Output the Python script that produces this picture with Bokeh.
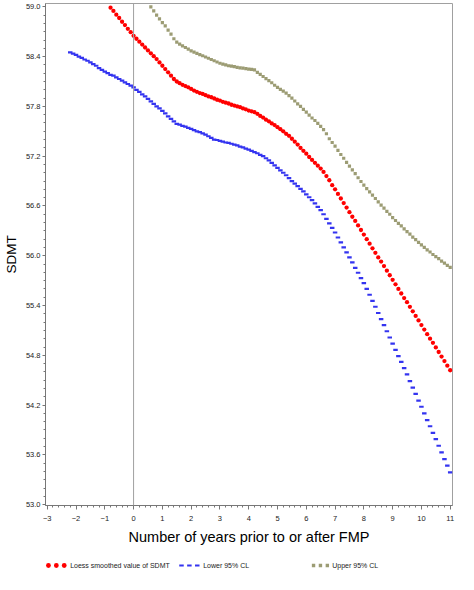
from bokeh.plotting import figure
from bokeh.models import Range1d, FixedTicker, PrintfTickFormatter, Span
from bokeh.layouts import column
from bokeh.embed import file_html
from bokeh.resources import INLINE
from bokeh.core.properties import value

# ---------------- data ----------------
x_grid = [-2.2, -2.1, -2.0, -1.9, -1.8, -1.7, -1.6, -1.5, -1.4, -1.3,
          -1.2, -1.1, -1.0, -0.9, -0.8, -0.7, -0.6, -0.5, -0.4, -0.3,
          -0.2, -0.1, 0.0, 0.1, 0.2, 0.3, 0.4, 0.5, 0.6, 0.7,
          0.8, 0.9, 1.0, 1.1, 1.2, 1.3, 1.4, 1.5, 1.6, 1.7,
          1.8, 1.9, 2.0, 2.1, 2.2, 2.3, 2.4, 2.5, 2.6, 2.7,
          2.8, 2.9, 3.0, 3.1, 3.2, 3.3, 3.4, 3.5, 3.6, 3.7,
          3.8, 3.9, 4.0, 4.1, 4.2, 4.3, 4.4, 4.5, 4.6, 4.7,
          4.8, 4.9, 5.0, 5.1, 5.2, 5.3, 5.4, 5.5, 5.6, 5.7,
          5.8, 5.9, 6.0, 6.1, 6.2, 6.3, 6.4, 6.5, 6.6, 6.7,
          6.8, 6.9, 7.0, 7.1, 7.2, 7.3, 7.4, 7.5, 7.6, 7.7,
          7.8, 7.9, 8.0, 8.1, 8.2, 8.3, 8.4, 8.5, 8.6, 8.7,
          8.8, 8.9, 9.0, 9.1, 9.2, 9.3, 9.4, 9.5, 9.6, 9.7,
          9.8, 9.9, 10.0, 10.1, 10.2, 10.3, 10.4, 10.5, 10.6, 10.7,
          10.8, 10.9, 11.0]

# Lower 95% CL (x from -2.2 to 11.0)
lower_cl = [58.45, 58.435, 58.42, 58.40, 58.385, 58.365, 58.35, 58.33, 58.31, 58.29,
            58.26, 58.24, 58.22, 58.20, 58.18, 58.17, 58.15, 58.13, 58.11, 58.09,
            58.07, 58.05, 58.03, 58.00, 57.975, 57.945, 57.92, 57.89, 57.86, 57.83,
            57.80, 57.775, 57.745, 57.715, 57.68, 57.65, 57.62, 57.59, 57.58, 57.565,
            57.555, 57.54, 57.53, 57.515, 57.50, 57.49, 57.475, 57.46, 57.44, 57.42,
            57.40, 57.395, 57.385, 57.375, 57.365, 57.36, 57.35, 57.34, 57.33, 57.315,
            57.305, 57.29, 57.28, 57.265, 57.25, 57.235, 57.215, 57.20, 57.175, 57.15,
            57.12, 57.09, 57.06, 57.03, 57.00, 56.97, 56.935, 56.90, 56.87, 56.84,
            56.805, 56.775, 56.74, 56.705, 56.67, 56.63, 56.59, 56.55, 56.50, 56.445,
            56.39, 56.335, 56.28, 56.22, 56.16, 56.10, 56.04, 55.98, 55.92, 55.855,
            55.795, 55.73, 55.67, 55.60, 55.53, 55.455, 55.385, 55.31, 55.235, 55.165,
            55.09, 55.015, 54.94, 54.865, 54.79, 54.72, 54.645, 54.57, 54.49, 54.41,
            54.335, 54.255, 54.18, 54.10, 54.02, 53.945, 53.865, 53.79, 53.71, 53.63,
            53.55, 53.47, 53.39]

# Loess smoothed value of SDMT (x from -0.8 to 11.0)
loess_sdmt = [58.99, 58.95, 58.905, 58.865, 58.82, 58.78, 58.735, 58.695, 58.65, 58.615,
              58.58, 58.545, 58.51, 58.475, 58.44, 58.405, 58.37, 58.33, 58.29, 58.25,
              58.21, 58.17, 58.13, 58.10, 58.08, 58.06, 58.045, 58.03, 58.01, 57.99,
              57.975, 57.96, 57.95, 57.935, 57.92, 57.91, 57.895, 57.88, 57.87, 57.855,
              57.845, 57.835, 57.82, 57.81, 57.80, 57.79, 57.775, 57.765, 57.75, 57.74,
              57.73, 57.71, 57.685, 57.665, 57.64, 57.62, 57.595, 57.575, 57.55, 57.525,
              57.50, 57.47, 57.445, 57.41, 57.375, 57.34, 57.30, 57.265, 57.23, 57.19,
              57.155, 57.12, 57.085, 57.05, 57.01, 56.96, 56.91, 56.85, 56.80, 56.745,
              56.69, 56.635, 56.58, 56.525, 56.47, 56.42, 56.365, 56.31, 56.255, 56.20,
              56.145, 56.09, 56.035, 55.98, 55.93, 55.875, 55.82, 55.765, 55.71, 55.655,
              55.60, 55.545, 55.49, 55.44, 55.385, 55.33, 55.275, 55.22, 55.165, 55.11,
              55.055, 55.00, 54.95, 54.895, 54.84, 54.785, 54.73, 54.675, 54.62]

# Upper 95% CL (x from 0.6 to 11.0)
upper_cl = [59.00, 58.95, 58.90, 58.855, 58.81, 58.77, 58.72, 58.67, 58.615, 58.575,
            58.55, 58.53, 58.51, 58.49, 58.47, 58.455, 58.44, 58.425, 58.41, 58.395,
            58.38, 58.365, 58.35, 58.335, 58.32, 58.31, 58.30, 58.29, 58.285, 58.28,
            58.27, 58.265, 58.26, 58.255, 58.25, 58.245, 58.24, 58.21, 58.185, 58.16,
            58.135, 58.11, 58.085, 58.055, 58.03, 58.005, 57.985, 57.96, 57.93, 57.90,
            57.865, 57.83, 57.80, 57.765, 57.73, 57.695, 57.66, 57.63, 57.595, 57.56,
            57.52, 57.47, 57.41, 57.365, 57.32, 57.27, 57.22, 57.175, 57.125, 57.08,
            57.035, 56.99, 56.94, 56.895, 56.85, 56.81, 56.77, 56.73, 56.69, 56.65,
            56.61, 56.575, 56.535, 56.50, 56.46, 56.425, 56.39, 56.36, 56.325, 56.29,
            56.26, 56.225, 56.195, 56.16, 56.13, 56.10, 56.07, 56.045, 56.015, 55.99,
            55.965, 55.935, 55.91, 55.885, 55.86]

x_ticks = [-3, -2, -1, 0, 1, 2, 3, 4, 5, 6, 7, 8, 9, 10, 11]
y_ticks = [53.0, 53.6, 54.2, 54.8, 55.4, 56.0, 56.6, 57.2, 57.8, 58.4, 59.0]
legend_labels = ["Loess smoothed value of SDMT", "Lower 95% CL", "Upper 95% CL"]
x_title = "Number of years prior to or after FMP"
y_title = "SDMT"

RED = "#ff0000"
BLUE = "#3434f0"
OLIVE = "#9c9c74"
FONT = "Liberation Sans"

loess_x = x_grid[len(x_grid) - len(loess_sdmt):]
upper_x = x_grid[len(x_grid) - len(upper_cl):]

W = 458
BL, BR = 39, 6

# ---------------- main plot ----------------
p = figure(width=W, height=556, output_backend="svg", toolbar_location=None,
           x_range=Range1d(-3.06, 11.08), y_range=Range1d(52.99, 59.04),
           min_border_left=BL, min_border_right=BR, min_border_top=3, min_border_bottom=51)
p.grid.visible = False
p.outline_line_color = "#a0a0a0"
p.outline_line_width = 1
p.background_fill_color = "white"
p.border_fill_color = "white"

p.add_layout(Span(location=0, dimension="height", line_color="#a0a0a0", line_width=1))

p.scatter(x_grid, lower_cl, marker="dash", size=4.5, line_color=BLUE, line_width=2.2)
p.scatter(upper_x, upper_cl, marker="square", size=3.2, fill_color=OLIVE, line_color=None)
p.scatter(loess_x, loess_sdmt, marker="circle", size=4.3, fill_color=RED, line_color=None)

minor_x = [round(-3 + 0.2 * i, 1) for i in range(71)]
minor_y = [round(53.0 + 0.1 * i, 1) for i in range(61)]
p.xaxis.ticker = FixedTicker(ticks=x_ticks, minor_ticks=minor_x)
p.yaxis.ticker = FixedTicker(ticks=y_ticks, minor_ticks=minor_y)
p.yaxis.formatter = PrintfTickFormatter(format="%.1f")

for ax in (p.xaxis[0], p.yaxis[0]):
    ax.axis_line_color = "#777777"
    ax.major_tick_line_color = "#777777"
    ax.minor_tick_line_color = "#777777"
    ax.major_tick_in = 0
    ax.minor_tick_in = 0
    ax.major_label_text_font = FONT
    ax.major_label_text_font_size = "7.5px"
    ax.major_label_text_color = "#222222"
    ax.axis_label_text_font = FONT
    ax.axis_label_text_font_style = "normal"
    ax.axis_label_text_color = "#000000"

p.xaxis.major_tick_out = 4
p.xaxis.minor_tick_out = 2
p.xaxis.major_label_standoff = 6
p.xaxis.axis_label = x_title
p.xaxis.axis_label_text_font_size = "14.5px"
p.xaxis.axis_label_standoff = 5

p.yaxis.major_tick_out = 3
p.yaxis.minor_tick_out = 2
p.yaxis.major_label_standoff = 2
p.yaxis.axis_label = y_title
p.yaxis.axis_label_text_font_size = "13.5px"
p.yaxis.axis_label_standoff = 4

# ---------------- legend strip (frame aligned with the main plot) ----------------
leg = figure(width=W, height=18, output_backend="svg", toolbar_location=None,
             x_range=Range1d(BL, W - BR), y_range=Range1d(0, 18),
             x_axis_location=None, y_axis_location=None,
             min_border_left=BL, min_border_right=BR, min_border_top=0, min_border_bottom=0)
leg.grid.visible = False
leg.outline_line_color = None

ly = [9, 9, 9]
leg.scatter([42, 50, 58], ly, marker="circle", size=4.8, fill_color=RED, line_color=None)
leg.scatter([177, 185, 193], ly, marker="dash", size=4.5, line_color=BLUE, line_width=2.2)
leg.scatter([311, 318, 325], ly, marker="square", size=3.4, fill_color=OLIVE, line_color=None)
leg.text([64, 199, 330], ly, text=legend_labels, text_font=value(FONT),
         text_font_size="7px", text_color="#222222", text_baseline="middle", text_align="left")

layout = column(p, leg, spacing=0)
open("out.html", "w").write(file_html(layout, INLINE))
